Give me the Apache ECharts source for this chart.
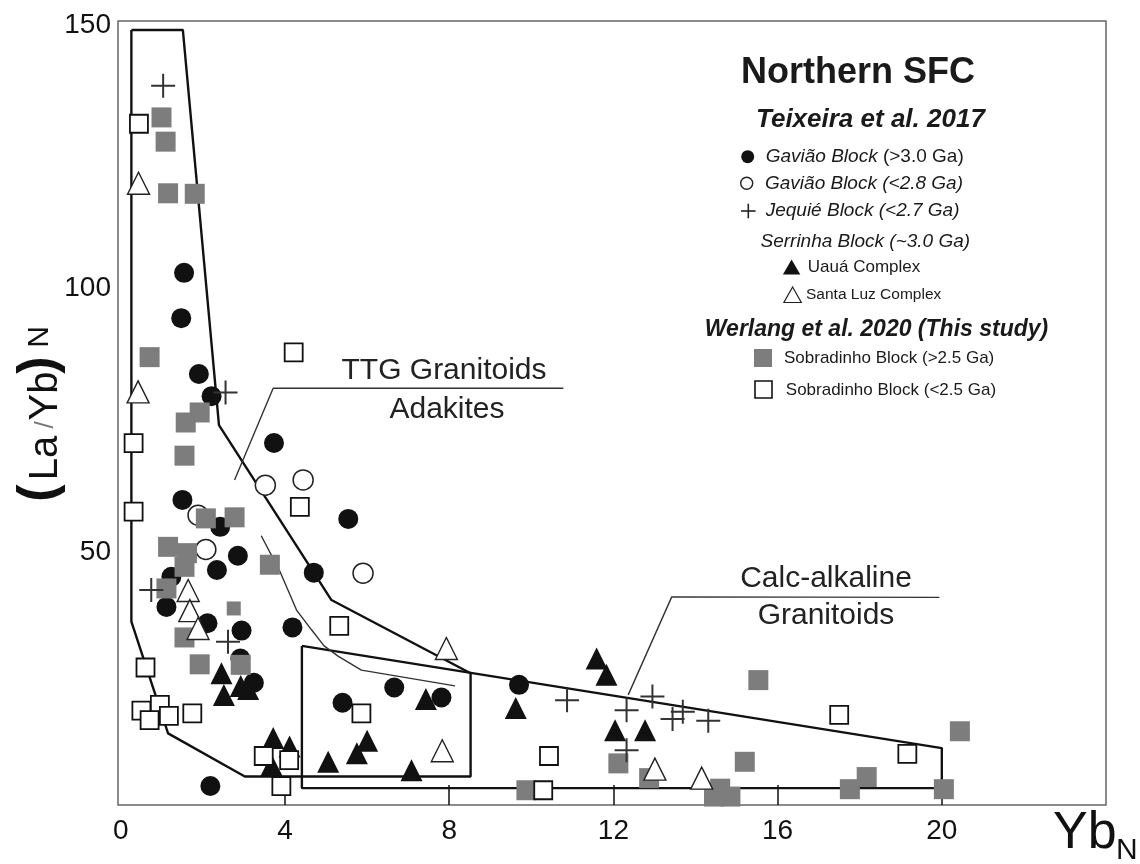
<!DOCTYPE html>
<html><head><meta charset="utf-8">
<script src="https://cdn.jsdelivr.net/npm/echarts@6/dist/echarts.min.js"></script>
<style>html,body{margin:0;padding:0;background:#fff}#c{width:1140px;height:864px}</style>
</head><body><div id="c"></div>
<script>
// ---- tick labels ----
const xTickLabels = [0, 4, 8, 12, 16, 20];
const xTickMarks = [4, 8, 12, 16, 20];
const yTickLabels = [50, 100, 150];

// ---- series data: [YbN, (La/Yb)N] ----
const gaviaoOld = [[1.54,103.0],[1.47,94.4],[1.90,83.8],[2.21,79.6],[3.73,70.7],[1.50,59.9],[5.54,56.3],[2.42,54.8],[2.85,49.3],[2.34,46.6],[4.70,46.1],[1.23,45.3],[1.11,39.6],[2.11,36.5],[2.94,35.1],[4.18,35.7],[2.91,29.8],[3.24,25.2],[2.18,5.6],[6.66,24.3],[7.81,22.4],[5.40,21.4],[9.70,24.8]];
const gaviaoYoung = [[3.52,62.7],[4.44,63.7],[1.88,57.0],[2.07,50.5],[5.90,46.0]];
const jequie = [[1.03,138.5],[2.55,80.3],[0.74,42.8],[2.61,33.0],[10.87,21.9],[12.32,20.0],[12.95,22.6],[13.44,18.3],[13.69,19.7],[14.31,18.0],[12.32,12.4]];
const uaua = [[2.45,27.0],[2.51,22.9],[2.92,24.6],[3.10,24.0],[3.71,14.7],[4.11,13.1],[3.67,9.6],[5.05,10.2],[6.00,14.2],[5.75,11.8],[7.08,8.6],[7.43,22.1],[9.62,20.4],[11.59,29.8],[11.83,26.7],[12.04,16.2],[12.77,16.2]];
const santaLuz = [[0.43,120.0],[0.42,80.4],[1.64,42.7],[1.68,38.9],[1.88,35.5],[7.93,31.7],[7.83,12.3],[13.01,8.8],[14.15,7.1]];
const sobradinhoOld = [[0.99,132.5],[1.09,127.9],[1.15,118.1],[1.80,118.0],[0.70,87.0],[1.92,76.5],[1.58,74.6],[1.55,68.3],[2.07,56.4],[2.77,56.6],[1.15,51.0],[1.61,49.8],[3.63,47.6],[1.55,47.2],[1.11,43.1],[1.55,33.8],[1.92,28.7],[2.92,28.6],[9.88,4.8],[12.12,9.9],[12.87,7.1],[15.20,10.2],[15.53,25.7],[14.45,3.6],[14.85,3.6],[14.60,5.1],[17.76,5.0],[18.17,7.3],[20.44,16.0],[20.05,5.0]];
const sobradinhoOldSmall = [[2.75,39.3]];
const sobradinhoYoung = [[0.44,131.3],[4.21,87.9],[0.31,70.7],[4.36,58.6],[0.31,57.7],[5.32,36.0],[0.60,28.1],[0.50,19.9],[0.95,21.0],[0.70,18.1],[1.17,18.9],[1.74,19.4],[3.48,11.3],[4.10,10.5],[3.91,5.6],[5.86,19.4],[10.43,11.3],[10.29,4.8],[17.50,19.1],[19.16,11.7]];

// ---- field boundaries ----
const adakiteField = [[0.256,149.1],[1.51,149.1],[2.39,74.1],[5.13,40.9],[8.52,27.0],[8.52,7.4],[3.02,7.4],[1.15,15.6],[0.256,36.8],[0.256,149.1]];
const calcAlkField = [[4.41,32.2],[20.0,12.8],[20.0,5.2],[4.41,5.2],[4.41,32.2]];
const ttgDivide = [[3.42,53.1],[3.87,46.4],[4.28,39.0],[4.64,35.3],[4.95,32.2],[5.30,30.2],[5.86,27.6],[8.14,24.6]];
const ttgLeader = [[2.77,63.7],[3.71,81.1],[10.78,81.1]];
const calcLeader = [[12.36,22.9],[13.42,41.5],[19.94,41.4]];

const FONT = "'Liberation Sans', Arial, Helvetica, sans-serif";
const PLUS = 'path://M11,0H13V11H24V13H13V24H11V13H0V11H11Z';

const chart = echarts.init(document.getElementById('c'), null, {renderer: 'canvas'});

function lineSeries(data, width, color, z) {
  return {type: 'line', data: data, symbol: 'none', showSymbol: false, silent: true, z: z,
    lineStyle: {color: color, width: width}, animation: false};
}
function scatter(data, symbol, size, itemStyle, z) {
  itemStyle.opacity = 1;
  return {type: 'scatter', data: data, symbol: symbol, symbolSize: size, itemStyle: itemStyle, z: z, silent: true, animation: false};
}

const graphics = [
  // y axis name
  {type: 'group', x: 42, y: 417, rotation: Math.PI / 2, silent: true, children: [
    {type: 'text', x: -76, y: -2, style: {text: '(', font: 'bold 52px ' + FONT, fill: '#111', align: 'center', verticalAlign: 'middle'}},
    {type: 'text', x: -41, y: 4, style: {text: 'La', font: '40px ' + FONT, fill: '#111', align: 'center', verticalAlign: 'middle'}},
    {type: 'text', x: -8, y: 4, style: {text: '/', font: '26px ' + FONT, fill: '#777', align: 'center', verticalAlign: 'middle'}},
    {type: 'text', x: 21, y: 4, style: {text: 'Yb', font: '40px ' + FONT, fill: '#111', align: 'center', verticalAlign: 'middle'}},
    {type: 'text', x: 52, y: -2, style: {text: ')', font: 'bold 52px ' + FONT, fill: '#111', align: 'center', verticalAlign: 'middle'}},
    {type: 'text', x: 80, y: -2, style: {text: 'N', font: '30px ' + FONT, fill: '#111', align: 'center', verticalAlign: 'middle'}}
  ]},
  // x axis name
  {type: 'text', x: 1053, y: 834, silent: true, style: {text: 'Yb', font: '52px ' + FONT, fill: '#111', align: 'left', verticalAlign: 'middle'}},
  {type: 'text', x: 1116, y: 851, silent: true, style: {text: 'N', font: '30px ' + FONT, fill: '#111', align: 'left', verticalAlign: 'middle'}},
  // field labels
  {type: 'text', x: 444, y: 371, silent: true, style: {text: 'TTG Granitoids', font: '30px ' + FONT, fill: '#222', align: 'center', verticalAlign: 'middle'}},
  {type: 'text', x: 447, y: 410, silent: true, style: {text: 'Adakites', font: '30px ' + FONT, fill: '#222', align: 'center', verticalAlign: 'middle'}},
  {type: 'text', x: 826, y: 579, silent: true, style: {text: 'Calc-alkaline', font: '30px ' + FONT, fill: '#222', align: 'center', verticalAlign: 'middle'}},
  {type: 'text', x: 826, y: 616, silent: true, style: {text: 'Granitoids', font: '30px ' + FONT, fill: '#222', align: 'center', verticalAlign: 'middle'}},
  // legend block
  {type: 'text', x: 858, y: 73, silent: true, style: {text: 'Northern SFC', font: 'bold 36px ' + FONT, fill: '#1a1a1a', align: 'center', verticalAlign: 'middle'}},
  {type: 'text', x: 756, y: 120, silent: true, style: {text: 'Teixeira et al. 2017', font: 'italic bold 26px ' + FONT, fill: '#1a1a1a', align: 'left', verticalAlign: 'middle'}},
  {type: 'circle', silent: true, shape: {cx: 747.7, cy: 156.7, r: 6.5}, style: {fill: '#111'}},
  {type: 'text', x: 765.7, y: 157, silent: true, style: {text: '{i|Gavião Block }{n|(>3.0 Ga)}', fill: '#1a1a1a', align: 'left', verticalAlign: 'middle',
    rich: {i: {font: 'italic 19px ' + FONT, fill: '#1a1a1a'}, n: {font: '19px ' + FONT, fill: '#1a1a1a'}}}},
  {type: 'circle', silent: true, shape: {cx: 746.7, cy: 183.3, r: 6}, style: {fill: '#fff', stroke: '#222', lineWidth: 1.4}},
  {type: 'text', x: 765, y: 183.5, silent: true, style: {text: 'Gavião Block (<2.8 Ga)', font: 'italic 19px ' + FONT, fill: '#1a1a1a', align: 'left', verticalAlign: 'middle'}},
  {type: 'polyline', silent: true, shape: {points: [[741, 211], [755.6, 211]]}, style: {stroke: '#222', lineWidth: 1.6}},
  {type: 'polyline', silent: true, shape: {points: [[748.3, 203.7], [748.3, 218.3]]}, style: {stroke: '#222', lineWidth: 1.6}},
  {type: 'text', x: 765.7, y: 211, silent: true, style: {text: 'Jequié Block (<2.7 Ga)', font: 'italic 19px ' + FONT, fill: '#1a1a1a', align: 'left', verticalAlign: 'middle'}},
  {type: 'text', x: 760.5, y: 241.7, silent: true, style: {text: 'Serrinha Block (~3.0 Ga)', font: 'italic 19px ' + FONT, fill: '#1a1a1a', align: 'left', verticalAlign: 'middle'}},
  {type: 'polygon', silent: true, shape: {points: [[791.6, 259.5], [800.3, 274.5], [782.9, 274.5]]}, style: {fill: '#111'}},
  {type: 'text', x: 807.8, y: 267.3, silent: true, style: {text: 'Uauá Complex', font: '17px ' + FONT, fill: '#1a1a1a', align: 'left', verticalAlign: 'middle'}},
  {type: 'polygon', silent: true, shape: {points: [[792.6, 287], [801.3, 302.5], [783.9, 302.5]]}, style: {fill: '#fff', stroke: '#222', lineWidth: 1.2}},
  {type: 'text', x: 806, y: 295, silent: true, style: {text: 'Santa Luz Complex', font: '15.5px ' + FONT, fill: '#1a1a1a', align: 'left', verticalAlign: 'middle'}},
  {type: 'text', x: 876.5, y: 329.5, silent: true, style: {text: 'Werlang et al. 2020 (This study)', font: 'italic bold 23px ' + FONT, fill: '#1a1a1a', align: 'center', verticalAlign: 'middle'}},
  {type: 'rect', silent: true, shape: {x: 754, y: 349, width: 18, height: 18}, style: {fill: '#7d7d7d'}},
  {type: 'text', x: 784, y: 358, silent: true, style: {text: 'Sobradinho Block (>2.5 Ga)', font: '17px ' + FONT, fill: '#1a1a1a', align: 'left', verticalAlign: 'middle'}},
  {type: 'rect', silent: true, shape: {x: 755, y: 381, width: 17, height: 17}, style: {fill: '#fff', stroke: '#111', lineWidth: 1.6}},
  {type: 'text', x: 785.8, y: 390, silent: true, style: {text: 'Sobradinho Block (<2.5 Ga)', font: '17px ' + FONT, fill: '#1a1a1a', align: 'left', verticalAlign: 'middle'}}
];

const option = {
  backgroundColor: '#fff',
  animation: false,
  grid: {left: 118, right: 34, top: 21, bottom: 59, show: true, borderColor: '#666', borderWidth: 1.5, backgroundColor: 'transparent'},
  xAxis: {type: 'value', min: -0.07, max: 24,
    axisLine: {show: false}, splitLine: {show: false},
    axisTick: {show: true, inside: true, length: 20, customValues: xTickMarks, lineStyle: {color: '#111', width: 1.5}},
    axisLabel: {customValues: xTickLabels, fontSize: 28, fontFamily: FONT, color: '#111', margin: 12}},
  yAxis: {type: 'value', min: 2, max: 150.8,
    axisLine: {show: false}, splitLine: {show: false}, axisTick: {show: false},
    axisLabel: {customValues: yTickLabels, fontSize: 28, fontFamily: FONT, color: '#111', margin: 7}},
  series: [
    lineSeries(adakiteField, 2.4, '#111', 1),
    lineSeries(calcAlkField, 2.4, '#111', 1),
    lineSeries(ttgDivide, 1.4, '#333', 1),
    lineSeries(ttgLeader, 1.4, '#333', 1),
    lineSeries(calcLeader, 1.4, '#333', 1),
    scatter(gaviaoOld, 'circle', 20, {color: '#111'}, 2),
    scatter(gaviaoYoung, 'circle', 20, {color: '#fff', borderColor: '#222', borderWidth: 1.5}, 3),
    scatter(uaua, 'triangle', 22, {color: '#111'}, 4),
    scatter(sobradinhoOld, 'rect', 20, {color: '#7d7d7d'}, 5),
    scatter(sobradinhoOldSmall, 'rect', 14, {color: '#7d7d7d'}, 5),
    scatter(santaLuz, 'triangle', 22, {color: '#fff', borderColor: '#222', borderWidth: 1.4}, 6),
    scatter(sobradinhoYoung, 'rect', 18, {color: '#fff', borderColor: '#111', borderWidth: 1.8}, 7),
    scatter(jequie, PLUS, 24, {color: '#333'}, 8)
  ],
  graphic: graphics
};
chart.setOption(option);
</script></body></html>
